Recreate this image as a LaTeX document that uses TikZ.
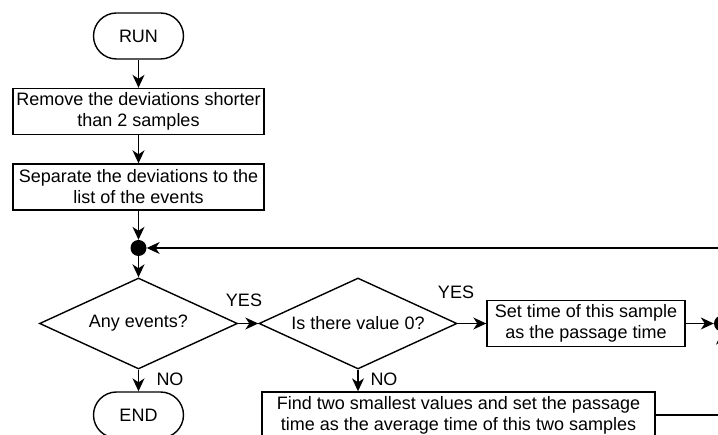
\documentclass[tikz,border=0pt]{standalone}
\usepackage{fontspec}
\setmainfont{Liberation Sans}
\usetikzlibrary{shapes.geometric,arrows.meta}

\begin{document}
\begin{tikzpicture}[x=1pt,y=-1pt,
    every node/.style={font=\fontsize{18}{21}\selectfont},
    line/.style={line width=1.4pt},
    arr/.style={line, -{Stealth[length=13pt,width=12pt,inset=4pt]}},
    box/.style={draw, line, align=center, inner sep=0pt, minimum height=46pt},
    term/.style={box, rounded corners=23pt, minimum width=90pt},
    ask/.style={draw, line, shape=diamond, aspect=2.18, inner sep=0pt,
      minimum width=198pt, minimum height=91pt},
    joint/.style={circle, fill, inner sep=0pt, minimum size=16pt}]
  \useasboundingbox (0,0) rectangle (718,435);
  \clip (0,0) rectangle (718,435);
  \node[term] (run) at (138.5,36) {RUN};
  \node[box, minimum width=251pt] (remove) at (138.5,111.5)
    {Remove the deviations shorter\\than 2 samples};
  \node[box, minimum width=251pt] (separate) at (138.5,187)
    {Separate the deviations to the\\list of the events};
  \node[joint] (loopin) at (138.5,248) {};
  \node[ask] (anyev) at (138.5,323.5) {Any events?};
  \node[term] (finish) at (138.5,415) {END};
  \node[ask] (zero) at (358,323.5) {Is there value 0?};
  \node[box, minimum width=198pt] (settime) at (586,323.5)
    {Set time of this sample\\as the passage time};
  \node[box, minimum width=393pt] (smallest) at (458.5,415)
    {Find two smallest values and set the passage\\time as the average time of this two samples};
  \node[joint] (merge) at (722,323.5) {};
  \coordinate (back) at (730,248);
  \node (yesA) at (244,300) {YES};
  \node (yesB) at (456,292) {YES};
  \node (noA) at (170,379) {NO};
  \node (noB) at (384,379) {NO};
  \draw[arr] (run) -- (remove);
  \draw[arr] (remove) -- (separate);
  \draw[arr] (separate) -- (loopin);
  \draw[arr] (loopin) -- (anyev);
  \draw[arr] (anyev) -- (finish);
  \draw[arr] (anyev) -- (zero);
  \draw[arr] (zero) -- (settime);
  \draw[arr] (zero.south) -- (zero.south |- smallest.north);
  \draw[arr] (settime) -- (merge);
  \draw[arr] (smallest.east) -| (merge);
  \draw[arr] (back) -- (loopin);
\end{tikzpicture}
\end{document}
